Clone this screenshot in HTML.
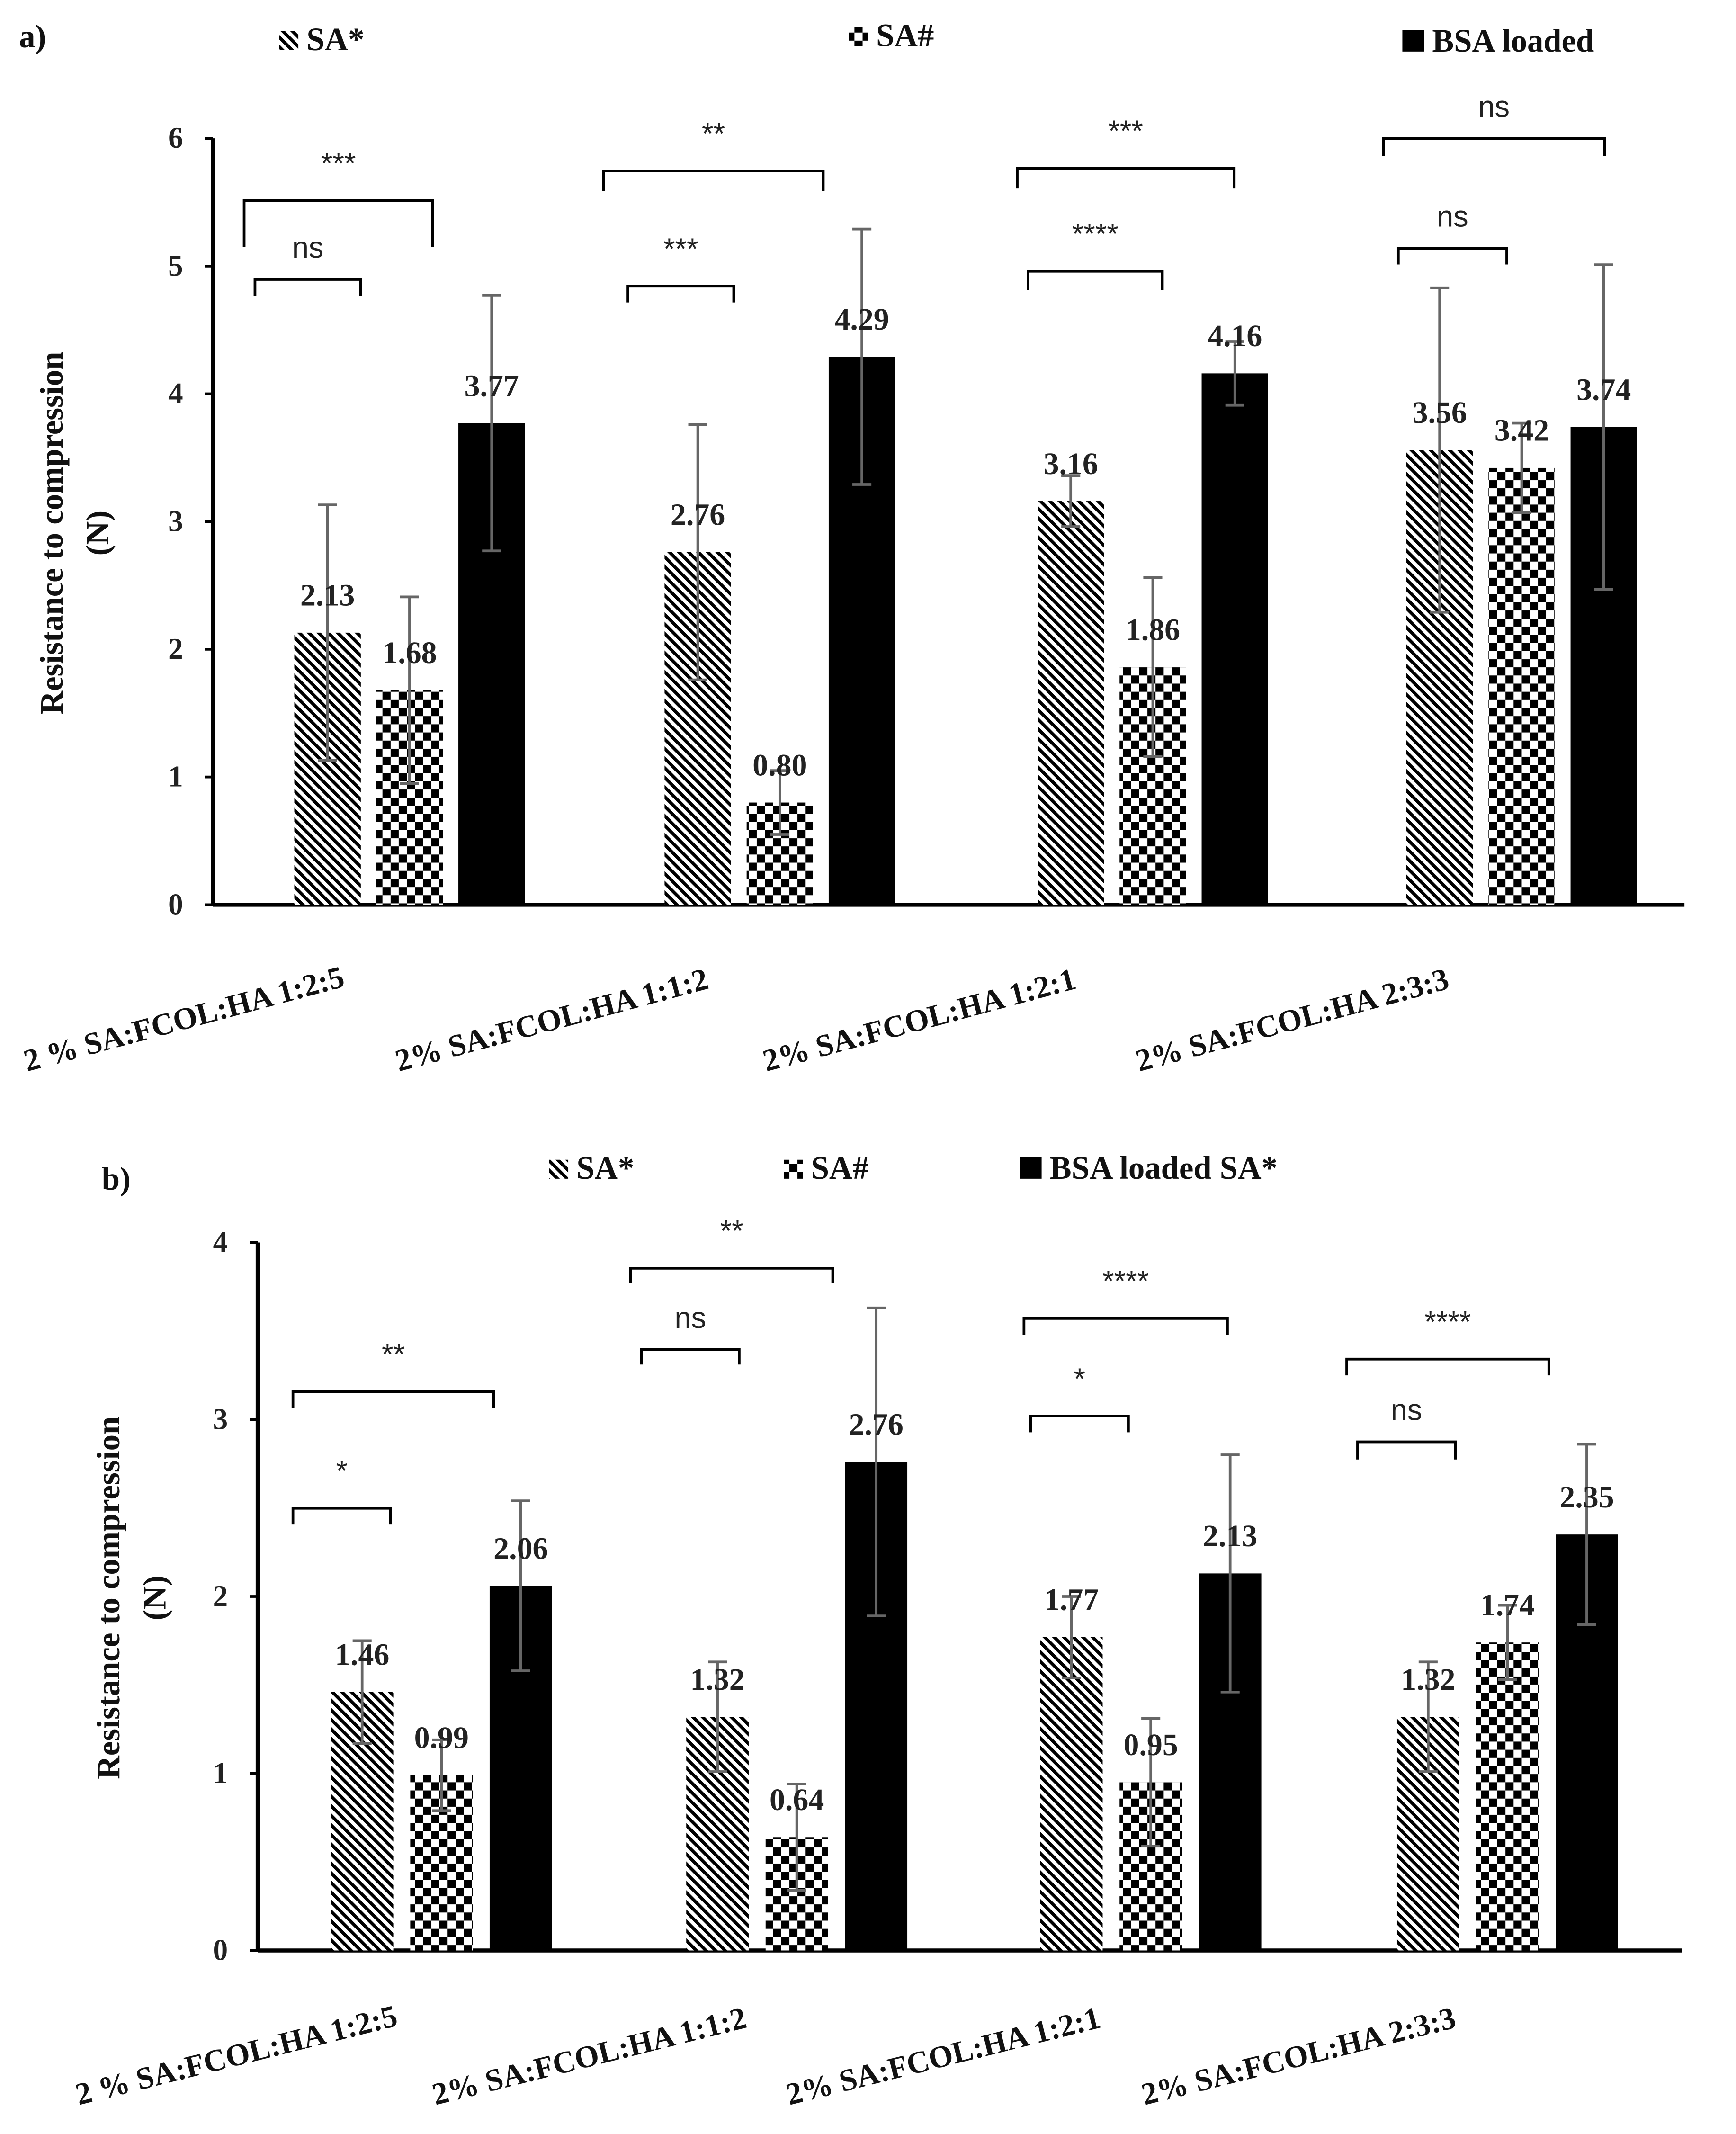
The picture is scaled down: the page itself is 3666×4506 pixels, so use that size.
<!DOCTYPE html>
<html><head><meta charset="utf-8"><style>
html,body{margin:0;padding:0;background:#fff}
svg{display:block}
.val{font-family:"Liberation Serif",serif;font-weight:bold;font-size:23px;fill:#222;text-anchor:middle}
.tick{font-family:"Liberation Serif",serif;font-weight:bold;font-size:22px;fill:#222;text-anchor:end}
.ann{font-family:"Liberation Sans",sans-serif;font-size:22px;fill:#222;text-anchor:middle}
.leg{font-family:"Liberation Serif",serif;font-weight:bold;font-size:24px;fill:#111}
.cat{font-family:"Liberation Serif",serif;font-weight:bold;font-size:23px;fill:#111}
.ytitle{font-family:"Liberation Serif",serif;font-weight:bold;font-size:24px;fill:#111;text-anchor:middle}
</style></head><body>
<svg id="root" width="3666" height="4506" viewBox="0 0 1280 1573.3" xmlns="http://www.w3.org/2000/svg">
<defs>
<pattern id="hatch" patternUnits="userSpaceOnUse" width="5" height="5" patternTransform="rotate(-45)">
<rect width="5" height="5" fill="#fff"/><rect width="2.4" height="5" fill="#000"/></pattern>
<pattern id="check" patternUnits="userSpaceOnUse" width="12" height="12">
<rect width="12" height="12" fill="#fff"/><rect width="6" height="6" fill="#000"/><rect x="6" y="6" width="6" height="6" fill="#000"/></pattern>
</defs>
<rect width="1280" height="1573.3" fill="#fff"/>
<text x="14" y="35" class="leg" font-size="26">a)</text>
<text x="75" y="877" class="leg" font-size="26">b)</text>
<g id="chartA"></g>
<g id="chartB"></g>
</svg>
<script>
const categories = ["2 % SA:FCOL:HA  1:2:5","2% SA:FCOL:HA  1:1:2","2% SA:FCOL:HA  1:2:1","2% SA:FCOL:HA  2:3:3"];
const seriesNames = ["SA*","SA#","BSA loaded"];
const aSA = [2.13,2.76,3.16,3.56];
const aSAh = [1.68,0.80,1.86,3.42];
const aBSA = [3.77,4.29,4.16,3.74];
const aErrSA = [1.0,1.0,0.2,1.27];
const aErrSAh = [0.73,0.25,0.7,0.35];
const aErrBSA = [1.0,1.0,0.25,1.27];
const aTicks = [0,1,2,3,4,5,6];
const bSA = [1.46,1.32,1.77,1.32];
const bSAh = [0.99,0.64,0.95,1.74];
const bBSA = [2.06,2.76,2.13,2.35];
const bErrSA = [0.29,0.31,0.23,0.31];
const bErrSAh = [0.2,0.3,0.36,0.21];
const bErrBSA = [0.48,0.87,0.67,0.51];
const bTicks = [0,1,2,3,4];

const NS="http://www.w3.org/2000/svg";
function mk(parent,tag,attrs,text){const e=document.createElementNS(NS,tag);for(const k in attrs)e.setAttribute(k,attrs[k]);if(text!==undefined)e.textContent=text;parent.appendChild(e);return e;}

function drawChart(g,cfg){
  const y=v=>cfg.y0-(v/cfg.ymax)*(cfg.y0-cfg.yTop);
  let ax=mk(g,'line',{x1:cfg.x0,y1:cfg.yTop,x2:cfg.x0,y2:cfg.y0,stroke:'#000','stroke-width':3});
  
  
  let bx=mk(g,'line',{x1:cfg.x0,y1:cfg.y0,x2:cfg.xEnd,y2:cfg.y0,stroke:'#000','stroke-width':3});
  
  
  cfg.ticks.forEach(t=>{
    let tl=mk(g,'line',{x1:cfg.x0-6,y1:y(t),x2:cfg.x0,y2:y(t),stroke:'#000','stroke-width':2});
    
    
    let tx=mk(g,'text',{x:cfg.x0-22,y:y(t)+7,class:'tick'},String(t));
    
    
  });
  const fills=['url(#hatch)','url(#check)','#000'];
  categories.forEach((c,i)=>{
    for(let s=0;s<3;s++){
      const v=cfg.vals[s][i], e=cfg.errs[s][i];
      const x=cfg.gx[i]+s*cfg.step;
      let r=mk(g,'rect',{x:x,y:y(v),width:cfg.bw,height:cfg.y0-y(v),fill:fills[s]});
      
      
      const cx=x+cfg.bw/2;
      let el=mk(g,'path',{d:`M${cx} ${y(v+e)}V${y(v-e)}M${cx-7} ${y(v+e)}H${cx+7}M${cx-7} ${y(v-e)}H${cx+7}`,stroke:'#666','stroke-width':2,fill:'none'});
      
      
      let lt=mk(g,'text',{x:cx,y:y(v)-20,class:'val'},v.toFixed(2));
      
      
    }
    let ct=mk(g,'text',{x:cfg.catX[i],y:cfg.catY,class:'cat',transform:`rotate(${cfg.catRot} ${cfg.catX[i]} ${cfg.catY})`},c);
    
    
  });
  cfg.brackets.forEach(b=>{
    let p=mk(g,'path',{d:`M${b[0]} ${b[3]}V${b[2]}H${b[1]}V${b[3]}`,stroke:'#000','stroke-width':2,fill:'none'});
    
    
    let t=mk(g,'text',{x:(b[0]+b[1])/2,y:b[2]-(b[4]==='ns'?16:20),class:'ann'},b[4]);
    
    
  });
  let yt=mk(g,'text',{x:cfg.ytx,y:cfg.yty,class:'ytitle',transform:`rotate(-90 ${cfg.ytx} ${cfg.yty})`},'Resistance to compression');
  
  
  let yu=mk(g,'text',{x:cfg.ytx+34,y:cfg.yty,class:'ytitle',transform:`rotate(-90 ${cfg.ytx+34} ${cfg.yty})`},'(N)');
  
  
  cfg.legend.forEach((l,k)=>{
    let r=mk(g,'rect',{x:l[0],y:l[1],width:l[2],height:l[2],fill:fills[k]});
    
    
    let t=mk(g,'text',{x:l[0]+l[2]+6,y:l[1]+l[2],class:'leg'},l[3]);
    
    
  });
}

drawChart(document.getElementById('chartA'),{
  x0:157,xEnd:1242,y0:667,yTop:102,ymax:6,ticks:aTicks,
  vals:[aSA,aSAh,aBSA],errs:[aErrSA,aErrSAh,aErrBSA],
  gx:[217,490,765,1037],step:60.5,bw:49,
  catX:[20,294,565,840],catY:790,catRot:-15,
  ytx:46,yty:393,
  brackets:[[180,319,148,182,'***'],[188,266,206,218,'ns'],[445,607,126,141,'**'],[463,541,211,223,'***'],
            [750,910,124,139,'***'],[758,857,200,214,'****'],[1020,1183,102,115,'ns'],[1031,1111,183,195,'ns']],
  legend:[[206,23,14,'SA*'],[626,20,14,'SA#'],[1034,22,16,'BSA loaded']]
});
drawChart(document.getElementById('chartB'),{
  x0:190,xEnd:1240,y0:1438,yTop:916,ymax:4,ticks:bTicks,
  vals:[bSA,bSAh,bBSA],errs:[bErrSA,bErrSAh,bErrBSA],
  gx:[244,506,767,1030],step:58.5,bw:46,
  catX:[58,321,582,844],catY:1552,catRot:-14,
  ytx:88,yty:1178,
  brackets:[[216,364,1026,1038,'**'],[216,288,1112,1124,'*'],[465,614,935,946,'**'],[473,545,995,1006,'ns'],
            [755,905,972,984,'****'],[760,832,1044,1056,'*'],[993,1142,1002,1014,'****'],[1001,1073,1063,1076,'ns']],
  legend:[[405,855,14,'SA*'],[578,855,14,'SA#'],[752,853,16,'BSA loaded SA*']]
});
</script>
</body></html>
